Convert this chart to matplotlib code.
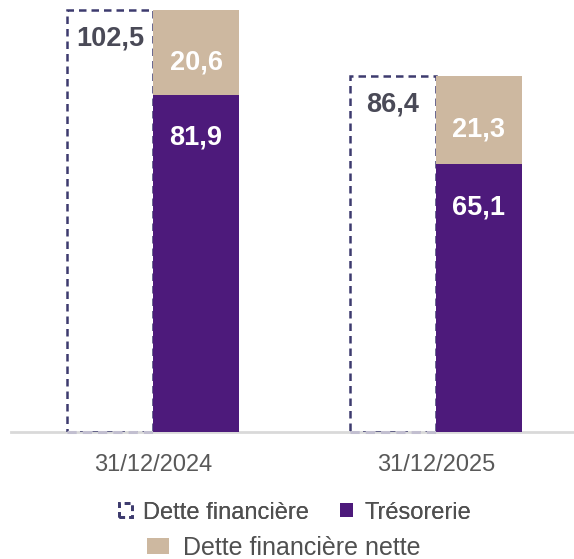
import matplotlib.pyplot as plt
from matplotlib.patches import Patch

plt.rcParams['font.family'] = ['Liberation Sans', 'DejaVu Sans']

# Data (millions)
dates = ["31/12/2024", "31/12/2025"]
dette_financiere = [102.5, 86.4]
tresorerie = [81.9, 65.1]
dette_nette = [20.6, 21.3]

purple = "#4d1a7b"
beige = "#cdb8a0"
navy = "#3d3b6e"

fig = plt.figure(figsize=(5.74, 5.59), dpi=100)
ax = fig.add_axes([11 / 574, 127 / 559, 1 - 11 / 574, 432 / 559])

x = list(range(len(dates)))
w = 0.304
x_box = [i - w / 2 for i in x]
x_stack = [i + w / 2 for i in x]

# dashed outline for gross debt
ax.bar(x_box, dette_financiere, width=w, fill=False, edgecolor=navy,
       linewidth=1.8, linestyle=(0, (3, 2)), zorder=2)
ax.hlines([0] * len(x), [i - w for i in x], x, colors="#c2bfd0",
          linewidth=2.2, linestyles=(0, (3, 2)), zorder=4, clip_on=False)

# stacked cash + net debt
ax.bar(x_stack, tresorerie, width=w, color=purple, zorder=3)
ax.bar(x_stack, dette_nette, width=w, bottom=tresorerie, color=beige, zorder=3)

fmt = lambda v: f"{v:.1f}".replace(".", ",")
for i in x:
    ax.text(x_box[i], dette_financiere[i] - 7, fmt(dette_financiere[i]),
            ha="center", va="center", fontsize=19.5, fontweight="bold",
            color="#4a4a57", zorder=5)
    ax.text(x_stack[i], tresorerie[i] + dette_nette[i] / 2 - 2.4, fmt(dette_nette[i]),
            ha="center", va="center", fontsize=19.5, fontweight="bold",
            color="white", zorder=5)
    ax.text(x_stack[i], tresorerie[i] - 10.5, fmt(tresorerie[i]),
            ha="center", va="center", fontsize=19.5, fontweight="bold",
            color="white", zorder=5)

ax.set_xlim(-0.502, 1.488)
ax.set_ylim(0, 432 / 4.12)
ax.set_xticks(x)
ax.set_xticklabels(dates, fontsize=17, color="#595959")
ax.tick_params(axis="x", length=0, pad=16)
ax.set_yticks([])
for s in ["top", "right", "left"]:
    ax.spines[s].set_visible(False)
ax.spines["bottom"].set_color("#d9d9d9")
ax.spines["bottom"].set_linewidth(2)
ax.spines["bottom"].set_zorder(1)

h1 = [Patch(facecolor="none", edgecolor=navy, linestyle=(0, (2, 1.5)), linewidth=2,
            label="Dette financière"),
      Patch(facecolor=purple, label="Trésorerie")]
leg1 = fig.legend(handles=h1, loc="center", bbox_to_anchor=(0.514, 0.083), ncol=2,
                  frameon=False, fontsize=17, handlelength=0.55, handleheight=0.55,
                  handletextpad=0.5, columnspacing=1.3, labelcolor="#505050")
h2 = [Patch(facecolor=beige, label="Dette financière nette")]
fig.legend(handles=h2, loc="center", bbox_to_anchor=(0.494, 0.02), frameon=False,
           fontsize=18, handlelength=0.88, handleheight=0.64, handletextpad=0.55,
           labelcolor="#505050")
fig.add_artist(leg1)

fig.savefig("out.png", dpi=100)
